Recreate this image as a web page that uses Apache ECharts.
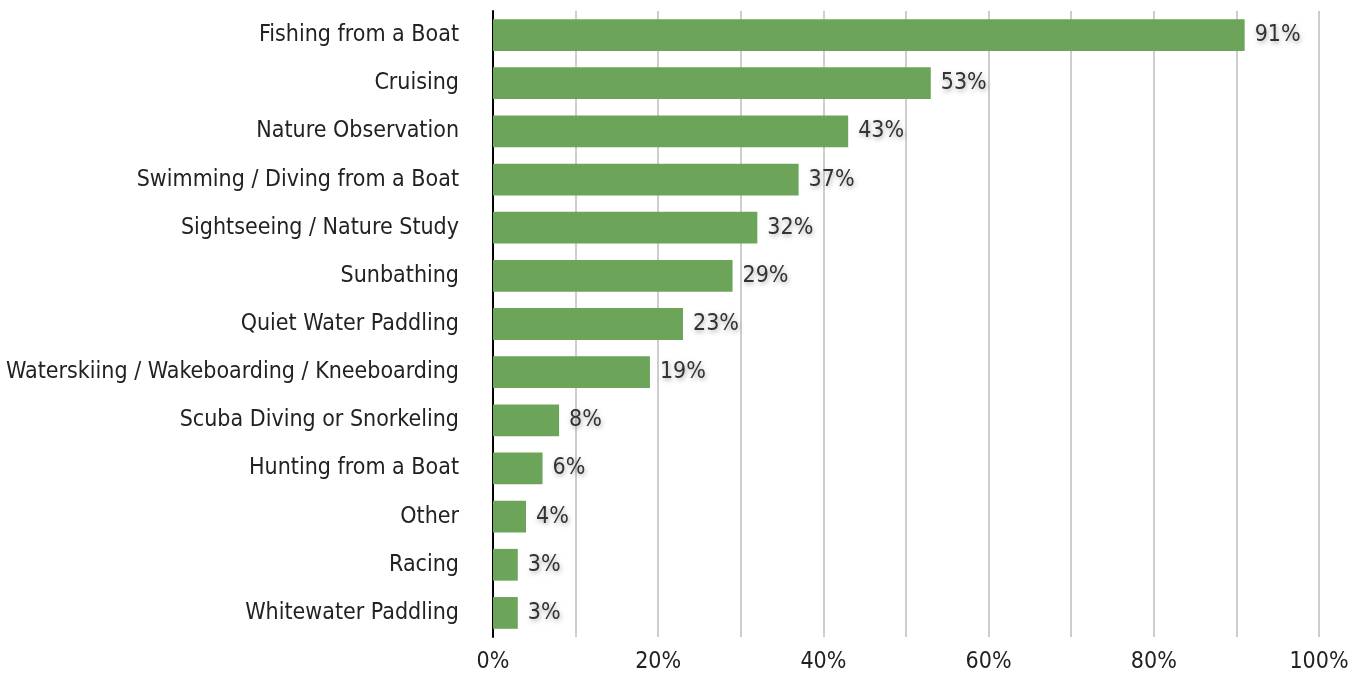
<!DOCTYPE html>
<html><head><meta charset="utf-8">
<script src="https://cdn.jsdelivr.net/npm/echarts@6/dist/echarts.min.js"></script>
<style>html,body{margin:0;padding:0;background:#fff}#c{width:1359px;height:675px}</style>
</head><body><div id="c"></div>
<script>
const categories = ["Fishing from a Boat","Cruising","Nature Observation","Swimming / Diving from a Boat","Sightseeing / Nature Study","Sunbathing","Quiet Water Paddling","Waterskiing / Wakeboarding / Kneeboarding","Scuba Diving or Snorkeling","Hunting from a Boat","Other","Racing","Whitewater Paddling"];
const values = [91,53,43,37,32,29,23,19,8,6,4,3,3];
const xTicks = [0,20,40,60,80,100];
const FONT = "'Liberation Sans Narrow','DejaVu Sans Condensed','Roboto Condensed',sans-serif";
const chart = echarts.init(document.getElementById('c'));
chart.setOption({
  animation:false,
  grid:{left:493,right:40,top:11,bottom:38,containLabel:false},
  xAxis:{type:'value',min:0,max:100,interval:10,
    axisLine:{show:false},axisTick:{show:false},
    splitLine:{show:true,lineStyle:{color:'#bdbdbd',width:1.5}},
    axisLabel:{fontFamily:FONT,fontSize:23,color:'#222',margin:14,
      formatter:v=>xTicks.includes(v)?v+'%':''}},
  yAxis:{type:'category',data:categories,inverse:true,
    axisLine:{show:true,lineStyle:{color:'#000',width:2}},
    axisTick:{show:false},
    axisLabel:{fontFamily:FONT,fontSize:23,color:'#222',margin:34}},
  series:[{type:'bar',data:values,barCategoryGap:'34%',
    itemStyle:{color:'#6ca55a'},
    label:{show:true,position:'right',distance:10,formatter:'{c}%',
      fontFamily:FONT,fontSize:23,color:'#333',
      textShadowColor:'rgba(0,0,0,0.35)',textShadowBlur:5,textShadowOffsetX:1,textShadowOffsetY:2}}]
});
</script></body></html>
